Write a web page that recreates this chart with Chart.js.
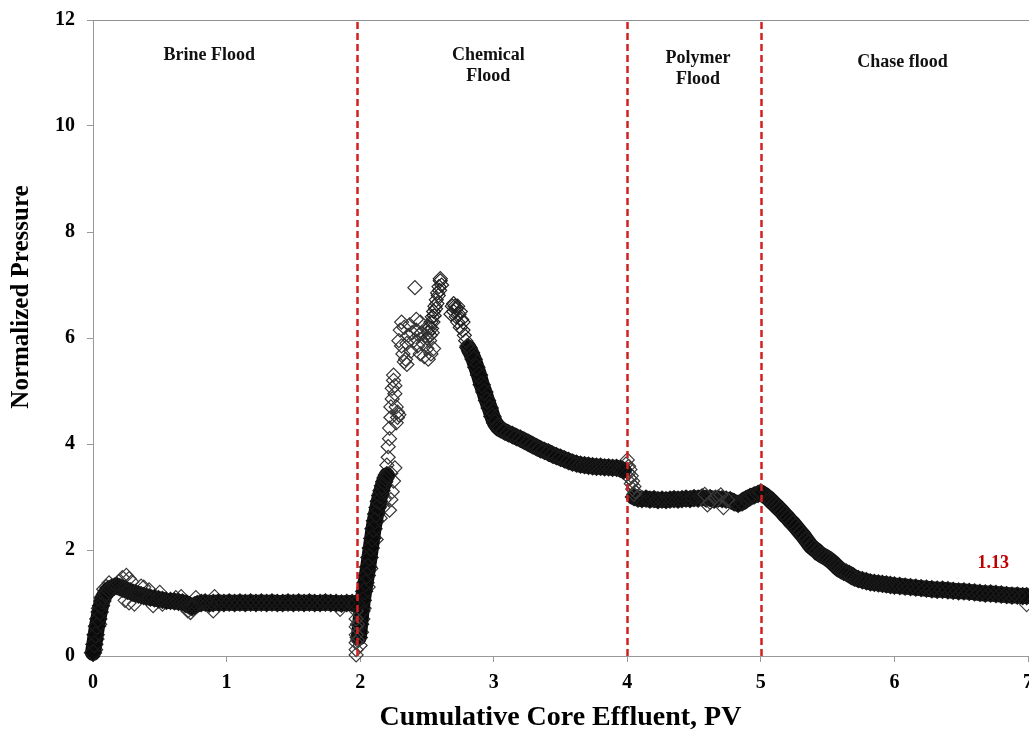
<!DOCTYPE html>
<html>
<head>
<meta charset="utf-8">
<title>Normalized Pressure vs Cumulative Core Effluent</title>
<script src="https://cdn.jsdelivr.net/npm/chart.js@4.4.1/dist/chart.umd.min.js"></script>
<style>
  html, body { margin: 0; padding: 0; background: #fff; overflow: hidden; }
  #wrap { width: 1029px; height: 755px; position: relative; overflow: hidden; }
</style>
</head>
<body>
<div id="wrap"><canvas id="chart" width="1029" height="755"></canvas></div>
<script>
// Axis ticks
const xTicks = [0, 1, 2, 3, 4, 5, 6, 7];
const yTicks = [0, 2, 4, 6, 8, 10, 12];

// Flood stages and the PV at which each new slug starts
const phaseNames = [['Brine Flood'], ['Chemical', 'Flood'], ['Polymer', 'Flood'], ['Chase flood']];
const phaseBoundaries = [1.975, 4, 5];

// Pressure readings [PV, normalized pressure]
const brineTrace = [
  [0.00,0.06],[0.01,0.22],[0.02,0.40],[0.03,0.56],[0.04,0.70],[0.05,0.83],[0.06,0.95],[0.07,1.04],
  [0.08,1.11],[0.09,1.16],[0.10,1.20],[0.12,1.25],[0.14,1.29],[0.16,1.31],[0.18,1.32],[0.20,1.30],
  [0.22,1.27],[0.24,1.26],[0.26,1.23],[0.28,1.22],[0.30,1.19],[0.32,1.18],[0.34,1.16],[0.36,1.15],
  [0.38,1.13],[0.40,1.12],[0.43,1.10],[0.46,1.09],[0.49,1.07],[0.52,1.06],[0.55,1.04],[0.58,1.04],
  [0.61,1.03],[0.64,1.02],[0.67,1.01],[0.70,0.99],[0.72,0.95],[0.74,0.93],[0.76,0.95],[0.78,0.98],
  [0.81,1.00],[0.84,1.01],[0.87,0.99],[0.90,1.00],[0.94,1.01],[0.98,1.00],[1.02,1.01],[1.06,1.00],
  [1.10,1.01],[1.14,1.00],[1.18,1.01],[1.22,1.00],[1.26,1.01],[1.30,1.00],[1.34,1.01],[1.38,1.00],
  [1.42,1.00],[1.46,1.01],[1.50,1.00],[1.54,1.01],[1.58,1.00],[1.62,1.01],[1.66,1.00],[1.70,1.00],
  [1.74,1.01],[1.78,1.00],[1.82,1.00],[1.86,0.99],[1.90,1.00],[1.94,1.00],[1.97,0.99]
];
const brineScatter = [
  [0.00,0.05],[0.02,0.12],[0.03,0.32],[0.05,0.60],[0.04,0.90],[0.06,1.10],[0.08,1.26],[0.10,1.31],
  [0.12,1.38],[0.20,1.42],[0.22,1.48],[0.25,1.52],[0.27,1.46],[0.29,1.40],[0.24,1.05],[0.27,1.00],
  [0.31,0.98],[0.36,1.32],[0.38,1.30],[0.42,1.25],[0.45,0.95],[0.50,1.20],[0.52,0.98],[0.62,1.10],
  [0.66,1.12],[0.71,0.85],[0.73,0.82],[0.75,0.88],[0.77,1.10],[0.90,0.85],[0.91,1.12],[1.85,0.88],
  [1.97,0.85],[1.97,0.70],[1.97,0.55],[1.97,0.40],[1.97,0.25],[1.97,0.12],[1.97,0.02],[1.98,0.60],
  [1.98,0.30]
];
const chemicalRise = [
  [1.99,0.35],[2.00,0.60],[2.01,0.85],[2.02,1.05],[2.03,1.22],[2.04,1.38],[2.05,1.52],[2.06,1.68],
  [2.07,1.86],[2.08,2.04],[2.09,2.22],[2.10,2.40],[2.11,2.55],[2.12,2.68],[2.13,2.80],[2.14,2.92],
  [2.15,3.03],[2.16,3.12],[2.17,3.21],[2.18,3.29],[2.19,3.36],[2.20,3.41]
];
const chemicalScatter = [
  [2.00,0.20],[2.01,0.45],[2.02,0.70],[2.03,0.90],[2.06,1.30],[2.08,1.65],[2.12,2.20],[2.15,2.60],
  [2.17,2.80],[2.18,2.95],[2.22,2.75],[2.23,2.95],[2.24,3.10],[2.25,3.30],[2.23,3.45],[2.26,3.55],
  [2.20,3.60],[2.21,3.75],[2.21,3.95],[2.22,4.10],[2.22,4.30],[2.23,4.50],
  [2.23,4.70],[2.24,4.85],[2.24,5.05],[2.25,5.20],[2.25,5.30],[2.26,4.95],[2.27,4.70],[2.28,4.60],
  [2.28,4.50],[2.29,4.55],[2.27,4.40],[2.26,5.10],[2.29,5.95],[2.30,6.15],[2.31,6.30],[2.31,5.85],
  [2.32,5.70],[2.33,6.20],[2.33,5.55],[2.34,5.60],[2.35,5.50],[2.35,5.90],[2.36,6.05],[2.37,6.25],
  [2.38,5.75],[2.39,6.10],[2.40,5.95],[2.41,6.95],[2.42,6.35],[2.42,6.15],[2.43,5.85],[2.44,6.05],
  [2.45,5.70],[2.45,6.30],[2.46,6.10],[2.47,5.90],[2.48,5.65],[2.49,6.05],[2.50,5.80],[2.50,6.20],
  [2.51,5.60],[2.52,5.95],[2.53,5.70],[2.54,6.10],[2.55,5.80]
];
const chemicalPeak = [
  [2.500,6.00],[2.510,6.10],[2.520,6.20],[2.525,6.05],[2.530,6.30],[2.535,6.18],[2.540,6.40],
  [2.545,6.30],[2.550,6.50],[2.555,6.42],[2.560,6.60],[2.565,6.55],[2.570,6.72],[2.575,6.65],
  [2.580,6.85],[2.585,6.80],[2.590,6.97],[2.595,6.90],[2.600,7.08],[2.600,7.12],[2.610,7.00]
];
const chemicalShoulder = [
  [2.68,6.45],[2.69,6.60],[2.70,6.65],[2.70,6.50],[2.71,6.60],[2.72,6.55],[2.72,6.40],[2.73,6.60],
  [2.73,6.30],[2.74,6.45],[2.75,6.50],[2.75,6.20],[2.76,6.35],[2.77,6.15],[2.77,6.30],[2.78,6.05],
  [2.79,5.95],[2.80,5.85]
];
const chemicalDecline = [
  [2.81,5.82],[2.83,5.72],[2.85,5.60],[2.87,5.45],[2.89,5.30],[2.91,5.12],[2.93,4.98],[2.95,4.82],
  [2.97,4.68],[2.99,4.52],[3.01,4.40],[3.03,4.33],[3.05,4.28],[3.08,4.24],[3.11,4.20],[3.14,4.17],
  [3.17,4.13],[3.20,4.10],[3.23,4.06],[3.26,4.02],[3.29,3.98],[3.32,3.94],[3.35,3.90],[3.38,3.87],
  [3.41,3.84],[3.44,3.80],[3.47,3.77],[3.50,3.74],[3.53,3.71],[3.56,3.68],[3.59,3.65],[3.62,3.63],
  [3.65,3.61],[3.68,3.60],[3.71,3.59],[3.74,3.58],[3.77,3.57],[3.80,3.57],[3.83,3.56],[3.86,3.56],
  [3.89,3.55],[3.92,3.55],[3.95,3.53],[3.97,3.50]
];
const polymerScatter = [
  [3.99,3.62],[4.00,3.70],[4.01,3.58],[4.01,3.45],[4.02,3.52],[4.02,3.35],[4.03,3.40],[4.03,3.25],
  [4.04,3.30],[4.04,3.15],[4.05,3.20],[4.05,3.05],[4.06,3.10],[4.58,3.05],[4.60,2.85],[4.62,2.90],
  [4.66,3.00],[4.70,3.04],[4.72,2.80],[4.75,2.95]
];
const polymerTrace = [
  [4.05,3.00],[4.08,2.97],[4.11,2.96],[4.14,2.97],[4.17,2.95],[4.20,2.96],[4.23,2.94],[4.26,2.95],
  [4.29,2.94],[4.32,2.95],[4.35,2.96],[4.38,2.95],[4.41,2.96],[4.44,2.97],[4.47,2.96],[4.50,2.98],
  [4.53,2.97],[4.56,2.99],[4.59,2.97],[4.62,2.98],[4.65,2.95],[4.68,2.97],[4.71,2.96],[4.74,2.95],
  [4.77,2.94],[4.80,2.90],[4.83,2.87],[4.86,2.90],[4.89,2.96],[4.92,3.00],[4.95,3.03],[4.98,3.06],
  [5.00,3.08]
];
const chaseTrace = [
  [5.00,3.08],[5.02,3.05],[5.04,3.01],[5.06,2.97],[5.08,2.92],[5.10,2.87],[5.12,2.82],[5.14,2.77],
  [5.16,2.72],[5.18,2.66],[5.20,2.61],[5.22,2.55],[5.24,2.50],[5.26,2.44],[5.28,2.38],[5.30,2.32],
  [5.32,2.26],[5.34,2.19],[5.36,2.12],[5.38,2.06],[5.40,2.02],[5.42,1.98],[5.44,1.93],[5.46,1.90],
  [5.48,1.87],[5.50,1.84],[5.52,1.80],[5.54,1.76],[5.56,1.71],[5.58,1.66],[5.60,1.62],[5.62,1.59],
  [5.64,1.57],[5.66,1.55],[5.68,1.51],[5.70,1.48],[5.73,1.45],[5.76,1.43],[5.79,1.41],[5.82,1.39],
  [5.85,1.38],[5.88,1.37],[5.91,1.36],[5.94,1.35],[5.97,1.34],[6.00,1.33],[6.04,1.32],[6.08,1.31],
  [6.12,1.30],[6.16,1.29],[6.20,1.28],[6.24,1.27],[6.28,1.26],[6.32,1.25],[6.36,1.25],[6.40,1.24],
  [6.44,1.23],[6.48,1.22],[6.52,1.22],[6.56,1.21],[6.60,1.20],[6.64,1.19],[6.68,1.18],[6.72,1.18],
  [6.76,1.17],[6.80,1.16],[6.84,1.15],[6.88,1.14],[6.92,1.14],[6.96,1.13],[6.99,1.13]
];
const chaseScatter = [[6.99,0.97]];

const SERIF = '"Liberation Serif", "Times New Roman", Times, serif';

const toPoints = arr => arr.map(([x, y]) => ({ x, y }));

// Dense runs of readings: thick dark trace with diamond markers on top
function band(arr) {
  return {
    data: toPoints(arr),
    showLine: true,
    clip: false,
    borderColor: '#0b0b0b',
    borderWidth: 16,
    borderJoinStyle: 'round',
    borderCapStyle: 'round',
    tension: 0,
    pointStyle: 'rectRot',
    pointRadius: 8.5,
    pointBorderWidth: 1.3,
    pointBorderColor: '#1a1a1a',
    pointBackgroundColor: 'rgba(0,0,0,0)'
  };
}
// Sparse readings: hollow diamonds only
function marks(arr, color) {
  return {
    data: toPoints(arr),
    showLine: false,
    clip: false,
    pointStyle: 'rectRot',
    pointRadius: 7,
    pointBorderWidth: 1.2,
    pointBorderColor: color,
    pointBackgroundColor: 'rgba(0,0,0,0)'
  };
}

// Pins the plot frame to a fixed box inside the canvas
const frame = {
  id: 'frame',
  afterLayout(chart, args, opts) {
    const { x, y } = chart.scales;
    const a = chart.chartArea;
    a.left = opts.left; a.right = opts.right; a.top = opts.top; a.bottom = opts.bottom;
    a.width = a.right - a.left; a.height = a.bottom - a.top;
    x.left = a.left; x.right = a.right; x.width = a.width;
    x.top = a.bottom; x.bottom = chart.height; x.height = x.bottom - x.top;
    y.left = 0; y.right = a.left; y.width = a.left;
    y.top = a.top; y.bottom = a.bottom; y.height = a.height;
    x.configure();
    y.configure();
  }
};

const overlay = {
  id: 'overlay',
  beforeDatasetsDraw(chart) {
    const { ctx, chartArea: a } = chart;
    ctx.save();
    ctx.strokeStyle = '#8f8f8f';
    ctx.lineWidth = 1;
    ctx.beginPath();
    ctx.moveTo(a.left, a.top + 0.5);
    ctx.lineTo(chart.width, a.top + 0.5);
    ctx.stroke();
    ctx.restore();
  },
  afterDatasetsDraw(chart, args, opts) {
    const { ctx, chartArea: a, scales: { x, y } } = chart;
    ctx.save();

    // stage boundaries
    ctx.strokeStyle = '#d42020';
    ctx.lineWidth = 2.5;
    ctx.setLineDash([7, 4]);
    phaseBoundaries.forEach(v => {
      const px = Math.round(x.getPixelForValue(v)) + 0.5;
      ctx.beginPath();
      ctx.moveTo(px, a.top + 2);
      ctx.lineTo(px, a.bottom);
      ctx.stroke();
    });
    ctx.setLineDash([]);

    // stage names
    ctx.fillStyle = '#111';
    ctx.font = 'bold 18px ' + SERIF;
    ctx.textAlign = 'center';
    ctx.textBaseline = 'middle';
    phaseNames.forEach((lines, i) => {
      const [lx, ly] = opts.labelAt[i];
      const px = x.getPixelForValue(lx);
      const py = y.getPixelForValue(ly);
      lines.forEach((t, j) => ctx.fillText(t, px, py + j * 21));
    });

    // final normalized pressure
    const last = chaseTrace[chaseTrace.length - 1];
    ctx.fillStyle = '#c00000';
    ctx.font = 'bold 18px ' + SERIF;
    ctx.fillText(last[1].toFixed(2), x.getPixelForValue(opts.finalAt[0]), y.getPixelForValue(opts.finalAt[1]));

    // vertical axis title
    ctx.fillStyle = '#000';
    ctx.font = 'bold 25px ' + SERIF;
    ctx.translate(22, 297);
    ctx.rotate(-Math.PI / 2);
    ctx.fillText('Normalized Pressure', 0, 0);
    ctx.restore();
  }
};

new Chart(document.getElementById('chart'), {
  type: 'scatter',
  data: {
    datasets: [
      band(brineTrace),
      marks(brineScatter, '#3a3a3a'),
      band(chemicalRise),
      marks(chemicalScatter, '#333'),
      marks(chemicalPeak, '#222'),
      marks(chemicalShoulder, '#222'),
      band(chemicalDecline),
      marks(polymerScatter, '#3a3a3a'),
      band(polymerTrace),
      band(chaseTrace),
      marks(chaseScatter, '#444')
    ]
  },
  plugins: [frame, overlay],
  options: {
    responsive: false,
    animation: false,
    events: [],
    layout: { padding: { top: 20, right: 1, bottom: 0, left: 0 } },
    plugins: {
      legend: { display: false },
      tooltip: { enabled: false },
      frame: { left: 93, right: 1028, top: 20, bottom: 656 },
      overlay: {
        labelAt: [[0.87, 11.34], [2.96, 11.34], [4.53, 11.28], [6.06, 11.2]],
        finalAt: [6.74, 1.75]
      }
    },
    scales: {
      x: {
        type: 'linear',
        min: 0, max: 7,
        afterBuildTicks: s => { s.ticks = xTicks.map(v => ({ value: v })); },
        afterFit: s => { s.height = 99; },
        border: { display: true, color: '#999', width: 1 },
        grid: { drawOnChartArea: false, drawTicks: true, tickLength: 6, color: '#999' },
        ticks: { color: '#000', padding: 9, font: { family: SERIF, size: 20, weight: 'bold' } },
        title: {
          display: true,
          text: 'Cumulative Core Effluent, PV',
          color: '#000',
          font: { family: SERIF, size: 28, weight: 'bold' },
          padding: { top: 0, bottom: 20 }
        }
      },
      y: {
        type: 'linear',
        min: 0, max: 12,
        afterBuildTicks: s => { s.ticks = yTicks.map(v => ({ value: v })); },
        afterFit: s => { s.width = 93; },
        border: { display: true, color: '#999', width: 1 },
        grid: { drawOnChartArea: false, drawTicks: true, tickLength: 6, color: '#999' },
        ticks: { color: '#000', padding: 12, font: { family: SERIF, size: 20, weight: 'bold' } }
      }
    }
  }
});
</script>
</body>
</html>
